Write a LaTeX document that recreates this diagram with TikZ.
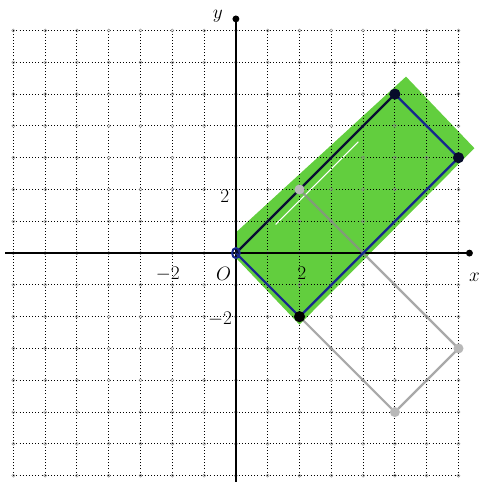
\documentclass[tikz,border=0pt]{standalone}
\usepackage{amsmath}
\usepackage{amssymb}
\usepackage{tikz}
\usetikzlibrary{calc}
\usetikzlibrary{arrows.meta}

\definecolor{marker}{RGB}{98,206,62}
\definecolor{pen}{RGB}{22,40,140}

\begin{document}
\begin{tikzpicture}[
			gridline/.style={
					line width=0.8pt,
					dash pattern=on 0.8pt off 2pt % dotted grid of the paper
				},
			axis/.style={line width=2.3pt, -{Circle[length=6pt]}},
			lbl/.style={inner sep=0pt, font=\fontsize{19}{21}\selectfont},
			vtx/.style={circle, fill=black, inner sep=0pt, minimum size=10pt},
			ghost/.style={circle, fill=black!28, inner sep=0pt, minimum size=9pt}
		]
		\useasboundingbox (-7.42,-7.2) rectangle (7.67,7.96);

		% corners of the two rectangles
		\coordinate (nA) at (0, 0);
		\coordinate (nB) at (2, -2);
		\coordinate (nC) at (7, 3);
		\coordinate (nD) at (5, 5);
		\coordinate (gB) at (2, 2);
		\coordinate (gC) at (7, -3);
		\coordinate (gD) at (5, -5);

		% marker shading, a bit wider than the rectangle
		\fill[marker] (0, 0.65) -- (0, -0.15) -- (2, -2.25) -- (7.5, 3.3) -- (5.35, 5.55) -- cycle;
		\draw[white, line width=0.8pt] (1.25, 0.9) -- (3.85, 3.5);

		% grid
		\foreach \i in {-7,...,7} {
				\draw[gridline] (\i, -7) -- (\i, 7);
				\draw[gridline] (-7, \i) -- (7, \i);
			}
		\foreach \i in {-7,...,7}
		\foreach \j in {-7,...,7}
		\draw[black!45, line width=0.4pt] (\i, \j) circle (1.4pt);

		% axes
		\coordinate (xstart) at (-7.26, 0);
		\coordinate (xend) at (7.45, 0);
		\coordinate (ystart) at (0, -7.3);
		\coordinate (yend) at (0, 7.47);
		\draw[axis] (xstart) -- (xend);
		\draw[axis] (ystart) -- (yend);

		% reflected rectangle
		\draw[black!45, opacity=0.75, line width=2pt, line join=round]
		(nA) -- (gB) -- (gC) -- (gD) -- cycle;

		% rectangle
		\draw[pen, line width=2pt, line join=round] (nA) -- (nB) -- (nC) -- (nD);
		\draw[pen!35!black, line width=2pt] (nD) -- (nA);

		\node[ghost] (pgB) at (gB) {};
		\node[ghost] (pgC) at (gC) {};
		\node[ghost] (pgD) at (gD) {};
		\node[vtx] (pB) at (nB) {};
		\node[vtx, fill=pen!30!black] (pC) at (nC) {};
		\node[vtx, fill=pen!30!black] (pD) at (nD) {};
		\draw[pen, line width=1.8pt] (nA) ellipse (0.12 and 0.16);

		% labels
		\node[lbl] (xlab) at (7.5, -0.76) {$x$};
		\node[lbl] (ylab) at (-0.57, 7.45) {$y$};
		\node[lbl] (orig) at (-0.39, -0.65) {$O$};
		\node[lbl] (xtwo) at (2.07, -0.64) {$2$};
		\node[lbl] (xmtwo) at (-2.14, -0.65) {$-2$};
		\node[lbl] (ytwo) at (-0.35, 1.8) {$2$};
		\node[lbl] (ymtwo) at (-0.5, -2.09) {$-2$};

	\end{tikzpicture}
\end{document}
